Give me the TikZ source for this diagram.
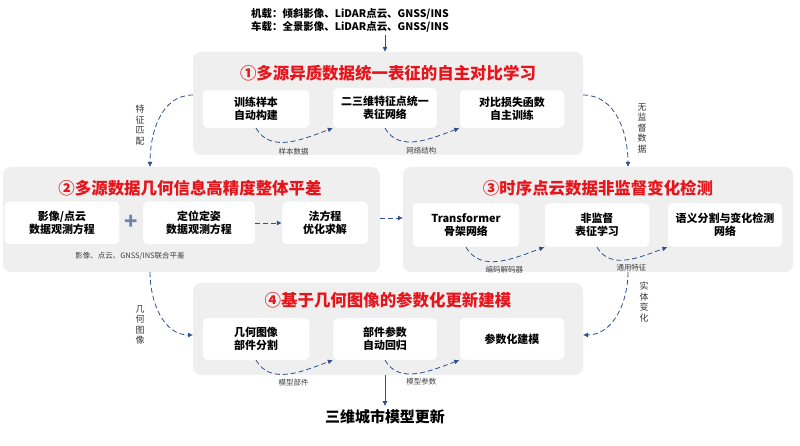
\documentclass[tikz,border=0pt]{standalone}
\usepackage{fontspec}
\setmainfont{Noto Sans CJK SC}
\usetikzlibrary{arrows.meta}
\definecolor{panelgray}{HTML}{EFEFEF}
\definecolor{arrowblue}{HTML}{2F4F8F}
\definecolor{titlered}{HTML}{E8141B}
\tikzset{
  panel/.style={fill=panelgray, rounded corners=8bp, draw=none},
  stepbox/.style={fill=white, rounded corners=4bp, draw=black!8, align=center,
    font=\bfseries\fontsize{11}{13}\selectfont, inner sep=0pt},
  title/.style={text=titlered, font=\bfseries\fontsize{16.5}{18}\selectfont},
  flow/.style={-{Latex[length=5bp,width=5bp]}, arrowblue, thick, dashed, dash pattern=on 5bp off 3bp},
  solidflow/.style={-{Latex[length=5bp,width=5bp]}, arrowblue, thick},
  note/.style={font=\fontsize{7.5}{9}\selectfont, text=black!75},
  side/.style={font=\fontsize{9}{10.5}\selectfont, text=black!80, align=center}
}
\begin{document}
\begin{tikzpicture}[x=1bp,y=-1bp]
\useasboundingbox (0,0) rectangle (800,446);

% Input
\node[font=\bfseries\fontsize{10.5}{13}\selectfont, align=left] (input) at (350,20) {机载：倾斜影像、LiDAR点云、GNSS/INS\\车载：全景影像、LiDAR点云、GNSS/INS};

% Panels
\path[panel] (193,52) rectangle (583,155);
\path[panel] (3,167) rectangle (380,272);
\path[panel] (403,167) rectangle (793,272);
\path[panel] (193,283) rectangle (583,375);
\coordinate (p1top) at (385,52);
\coordinate (p1left) at (193,95);
\coordinate (p1right) at (583,95);
\coordinate (p2right) at (380,218);
\coordinate (p3left) at (403,218);
\coordinate (p2bot) at (150,272);
\coordinate (p3bot) at (628,272);
\coordinate (p2top) at (150,167);
\coordinate (p3top) at (628,167);
\coordinate (p4left) at (193,335);
\coordinate (p4right) at (583,335);
\coordinate (p4bot) at (385,375);

% Titles
\node[title] (t1) at (388,73) {①多源异质数据统一表征的自主对比学习};
\node[title] (t2) at (190,188) {②多源数据几何信息高精度整体平差};
\node[title] (t3) at (598,188) {③时序点云数据非监督变化检测};
\node[title] (t4) at (388,300) {④基于几何图像的参数化更新建模};

% Panel 1
\node[stepbox, minimum width=107bp, minimum height=38bp] (a1) at (256,109) {训练样本\\自动构建};
\node[stepbox, minimum width=104bp, minimum height=40bp] (a2) at (385,108) {二三维特征点统一\\表征网络};
\node[stepbox, minimum width=105bp, minimum height=38bp] (a3) at (512,109) {对比损失函数\\自主训练};
\draw[flow] (a1.south) to[out=-60,in=200] node[pos=0.55,below=3bp,note]{样本数据} (a2.south west);
\draw[flow] (a2.south) to[out=-60,in=200] node[pos=0.55,below=3bp,note]{网络结构} (a3.south west);

% Panel 2
\node[stepbox, minimum width=115bp, minimum height=43bp] (b1) at (62,223) {影像/点云\\数据观测方程};
\node[stepbox, minimum width=112bp, minimum height=43bp] (b2) at (199,223) {定位定姿\\数据观测方程};
\node[stepbox, minimum width=86bp, minimum height=43bp] (b3) at (325,223) {法方程\\优化求解};
\node[text=arrowblue!70, font=\fontsize{22}{22}\selectfont] (plus) at (131,222) {\textbf{+}};
\draw[flow] (b2) -- (b3);
\node[note] (bnote) at (130,256) {影像、点云、GNSS/INS联合平差};

% Panel 3
\node[stepbox, minimum width=107bp, minimum height=44bp] (c1) at (466,225) {Transformer\\骨架网络};
\node[stepbox, minimum width=105bp, minimum height=44bp] (c2) at (597,225) {非监督\\表征学习};
\node[stepbox, minimum width=115bp, minimum height=44bp] (c3) at (725,225) {语义分割与变化检测\\网络};
\draw[flow] (c1.south) to[out=-60,in=200] node[pos=0.55,below=2bp,note]{编码解码器} (c2.south west);
\draw[flow] (c2.south) to[out=-60,in=200] node[pos=0.55,below=2bp,note]{通用特征} (c3.south west);

% Panel 4
\node[stepbox, minimum width=107bp, minimum height=42bp] (d1) at (256,339) {几何图像\\部件分割};
\node[stepbox, minimum width=104bp, minimum height=42bp] (d2) at (385,339) {部件参数\\自动回归};
\node[stepbox, minimum width=105bp, minimum height=42bp] (d3) at (512,339) {参数化建模};
\draw[flow] (d1.south) to[out=-60,in=200] node[pos=0.55,below=2bp,note]{模型部件} (d2.south west);
\draw[flow] (d2.south) to[out=-60,in=200] node[pos=0.55,below=2bp,note]{模型参数} (d3.south west);

% Output
\node[font=\bfseries\fontsize{15}{17}\selectfont] (output) at (385,417) {三维城市模型更新};

% Connections between panels
\draw[solidflow] (input.south -| p1top) -- (p1top);
\draw[solidflow] (p4bot) -- (output.north);
\draw[flow] (p2right) -- (p3left);
\draw[flow] (p1left) to[out=180,in=90] (p2top);
\draw[flow] (p1right) to[out=0,in=90] (p3top);
\draw[flow] (p2bot) to[out=-90,in=180] (p4left);
\draw[flow] (p3bot) to[out=-90,in=0] (p4right);
\node[side] (l1) at (140,125) {特\\征\\匹\\配};
\node[side] (l2) at (642,128) {无\\监\\督\\数\\据};
\node[side] (l3) at (140,325) {几\\何\\图\\像};
\node[side] (l4) at (644,302) {实\\体\\变\\化};
\end{tikzpicture}
\end{document}
